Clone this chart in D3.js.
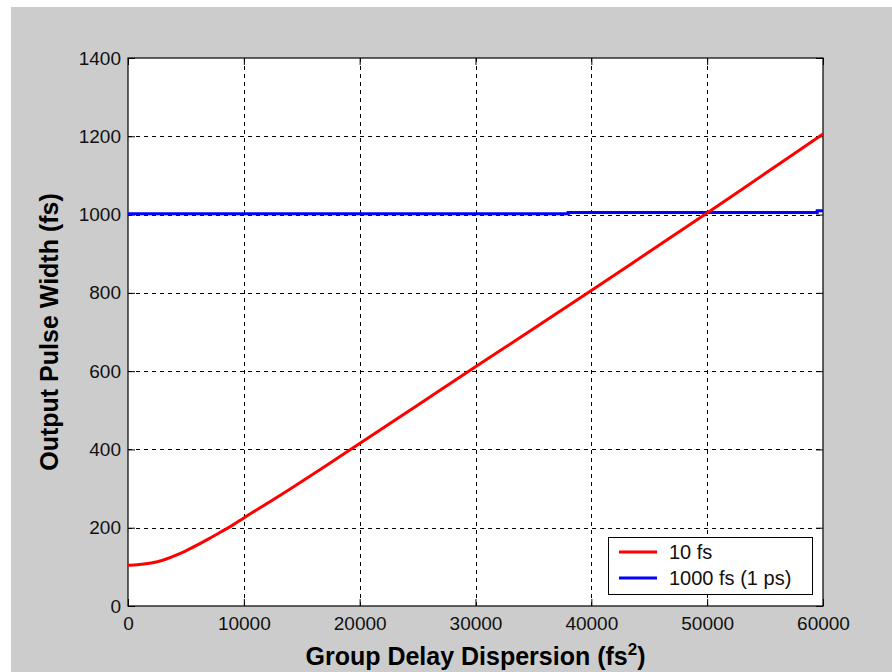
<!DOCTYPE html>
<html>
<head>
<meta charset="utf-8">
<script src="https://cdn.jsdelivr.net/npm/d3@7"></script>
<style>
  body { margin: 0; background: #fff; }
  text { font-family: "Liberation Sans", Arial, sans-serif; }
</style>
</head>
<body>
<script>
// values
var gdd      = [0, 1000, 2000, 3000, 4000, 5000, 6000, 7000, 8000, 9000, 10000, 12000, 14000, 16000, 18000, 20000, 25000, 30000, 35000, 40000, 45000, 50000, 55000, 60000];
var width10  = [104, 106, 110, 117, 128, 141, 156, 172, 189, 206, 225, 262, 299, 337, 376, 415, 513, 611, 708, 806, 905, 1004, 1105, 1206];
var gddBlue  = [0, 38000, 38000, 59500, 59500, 60000];
var width1ps = [1002, 1002, 1005, 1005, 1010, 1010];
var xTicks = [0, 10000, 20000, 30000, 40000, 50000, 60000];
var yTicks = [0, 200, 400, 600, 800, 1000, 1200, 1400];
var names = ["10 fs", "1000 fs (1 ps)"];
var colors = ["#ff0000", "#0000ff"];

var W = 892, H = 672;
var pLeft = 128, pTop = 58, pRight = 823, pBottom = 606;

var svg = d3.select("body").append("svg")
    .attr("width", W)
    .attr("height", H);

// figure background
svg.append("rect")
    .attr("x", 11).attr("y", 7)
    .attr("width", W - 11).attr("height", H - 7)
    .attr("fill", "#cccccc");

var x = d3.scaleLinear().domain([0, 60000]).range([pLeft, pRight]);
var y = d3.scaleLinear().domain([0, 1400]).range([pBottom, pTop]);

svg.append("rect")
    .attr("x", pLeft).attr("y", pTop)
    .attr("width", pRight - pLeft).attr("height", pBottom - pTop)
    .attr("fill", "#fff");

// grid
var grid = svg.append("g").attr("stroke", "#000").attr("stroke-width", 1).attr("stroke-dasharray", "4,4");
grid.selectAll(".vg")
    .data(xTicks.slice(1, -1))
  .enter().append("line")
    .attr("x1", function(d) { return Math.round(x(d)) + 0.5; })
    .attr("x2", function(d) { return Math.round(x(d)) + 0.5; })
    .attr("y1", pTop).attr("y2", pBottom);
grid.selectAll(".hg")
    .data(yTicks.slice(1, -1))
  .enter().append("line")
    .attr("y1", function(d) { return Math.round(y(d)) + 0.5; })
    .attr("y2", function(d) { return Math.round(y(d)) + 0.5; })
    .attr("x1", pLeft).attr("x2", pRight);

// axes with inward ticks
function styleAxis(g) {
  g.select(".domain").remove();
  g.selectAll(".tick line").attr("stroke", "#000");
  g.selectAll(".tick text").attr("fill", "#111").style("font-size", "19px");
}
svg.append("g")
    .attr("transform", "translate(0," + pBottom + ")")
    .call(d3.axisBottom(x).tickValues(xTicks).tickFormat(d3.format("d")).tickSizeInner(-7).tickSizeOuter(0).tickPadding(11))
    .call(styleAxis);
svg.append("g")
    .attr("transform", "translate(0," + pTop + ")")
    .call(d3.axisTop(x).tickValues(xTicks).tickFormat("").tickSizeInner(-7).tickSizeOuter(0))
    .call(styleAxis);
svg.append("g")
    .attr("transform", "translate(" + pLeft + ",0)")
    .call(d3.axisLeft(y).tickValues(yTicks).tickFormat(d3.format("d")).tickSizeInner(-7).tickSizeOuter(0).tickPadding(7))
    .call(styleAxis);
svg.append("g")
    .attr("transform", "translate(" + pRight + ",0)")
    .call(d3.axisRight(y).tickValues(yTicks).tickFormat("").tickSizeInner(-7).tickSizeOuter(0))
    .call(styleAxis);

svg.append("rect")
    .attr("x", pLeft).attr("y", pTop)
    .attr("width", pRight - pLeft).attr("height", pBottom - pTop)
    .attr("fill", "none").attr("stroke", "#000").attr("stroke-width", 1.2);

// series
var line = d3.line()
    .x(function(d) { return x(d[0]); })
    .y(function(d) { return y(d[1]); });

svg.append("path")
    .attr("d", line(d3.zip(gddBlue, width1ps)))
    .attr("fill", "none").attr("stroke", colors[1]).attr("stroke-width", 3);
svg.append("path")
    .attr("d", line.curve(d3.curveMonotoneX)(d3.zip(gdd, width10)))
    .attr("fill", "none").attr("stroke", colors[0]).attr("stroke-width", 3);

// legend
var lg = svg.append("g");
lg.append("rect")
    .attr("x", 608.5).attr("y", 537.5)
    .attr("width", 204).attr("height", 57)
    .attr("fill", "#fff").attr("stroke", "#000").attr("stroke-width", 1);
names.forEach(function(n, i) {
  var ly = 552 + i * 26;
  lg.append("line")
      .attr("x1", 619).attr("x2", 657)
      .attr("y1", ly).attr("y2", ly)
      .attr("stroke", colors[i]).attr("stroke-width", 3);
  lg.append("text")
      .attr("x", 669).attr("y", ly + 7)
      .style("font-size", "20px").attr("fill", "#111")
      .text(n);
});

// axis titles
var xt = svg.append("text")
    .attr("x", (pLeft + pRight) / 2).attr("y", 665)
    .attr("text-anchor", "middle")
    .style("font-size", "25px").style("font-weight", "bold")
    .attr("fill", "#000");
xt.append("tspan").text("Group Delay Dispersion (fs");
xt.append("tspan").attr("dy", -10).style("font-size", "17px").text("2");
xt.append("tspan").attr("dy", 10).text(")");

svg.append("text")
    .attr("transform", "translate(58," + ((pTop + pBottom) / 2) + ") rotate(-90)")
    .attr("text-anchor", "middle")
    .style("font-size", "25px").style("font-weight", "bold")
    .attr("fill", "#000")
    .text("Output Pulse Width (fs)");
</script>
</body>
</html>
